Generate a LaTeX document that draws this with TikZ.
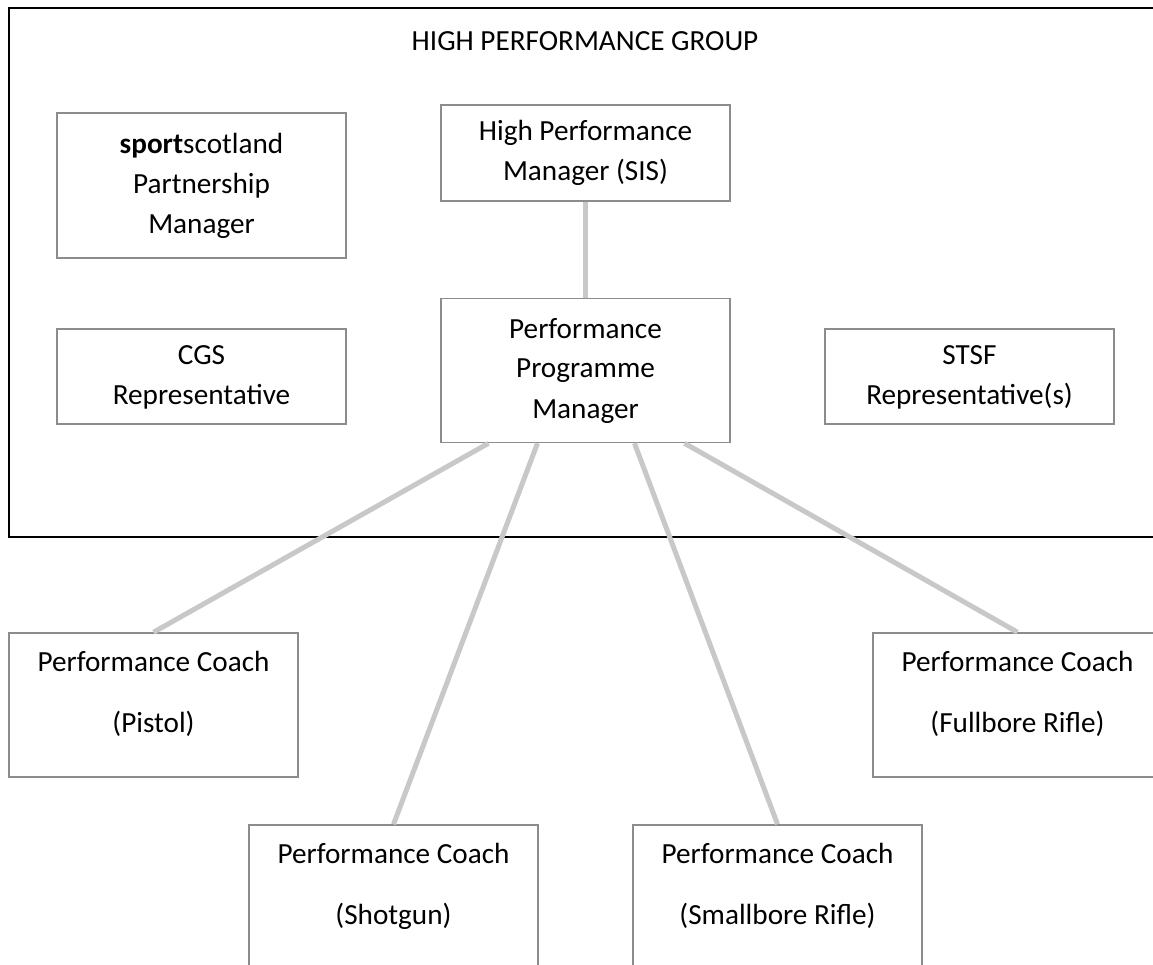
\documentclass[tikz,border=0pt]{standalone}
\usepackage{fontspec}
\setmainfont{Carlito}
\usetikzlibrary{positioning}
\definecolor{BoxGray}{RGB}{140,140,140}
\definecolor{LinkGray}{RGB}{200,200,200}
\newcommand{\rolefont}{\fontsize{29.2}{40}\selectfont}

\begin{document}
\begin{tikzpicture}[x=1pt,y=-1pt,
    rolebox/.style={draw=BoxGray,line width=1.5pt,fill=white,align=center,
      minimum width=289pt,inner sep=0pt,font=\rolefont},
    repbox/.style={rolebox,minimum height=95pt,text height=61pt,text depth=6pt},
    coachbox/.style={rolebox,minimum height=144pt,
      execute at end node={\rule[-26pt]{0pt}{0pt}}},
    link/.style={draw=LinkGray,line width=5pt}]
  \useasboundingbox (0,0) rectangle (1153,965);
  \clip (0,0) rectangle (1153,965);
  % group frame, runs off the right edge
  \draw[line width=2pt] (9,8.5) rectangle (1180,537);
  \node[font=\rolefont] (hpg) at (585,41) {HIGH PERFORMANCE GROUP};
  % members of the group
  \node[rolebox,minimum height=145pt] (sps) at (201.5,185.5)
    {\textbf{sport}scotland\\Partnership\\Manager};
  \node[rolebox,minimum height=96pt] (hpm) at (585.5,153)
    {High Performance\\Manager (SIS)};
  \node[rolebox,minimum height=144pt,below=96pt of hpm] (ppm)
    {Performance\\Programme\\Manager};
  \node[repbox] (cgs) at (201.5,376.5) {CGS\\Representative};
  \node[repbox] (stsf) at (969.5,376.5) {STSF\\Representative(s)};
  % coaches
  \node[coachbox] (pistol) at (153.5,705)
    {Performance Coach\\[21pt](Pistol)};
  \node[coachbox] (shotgun) at (393.5,897)
    {Performance Coach\\[21pt](Shotgun)};
  \node[coachbox] (smallbore) at (777.5,897)
    {Performance Coach\\[21pt](Smallbore Rifle)};
  \node[coachbox] (fullbore) at (1017.5,705)
    {Performance Coach\\[21pt](Fullbore Rifle)};
  % reporting lines
  \draw[link] (hpm) -- (ppm);
  \draw[link] ([xshift=-97pt]ppm.south) -- (pistol.north);
  \draw[link] ([xshift=-48pt]ppm.south) -- (shotgun.north);
  \draw[link] ([xshift=49pt]ppm.south) -- (smallbore.north);
  \draw[link] ([xshift=99pt]ppm.south) -- (fullbore.north);
\end{tikzpicture}
\end{document}
